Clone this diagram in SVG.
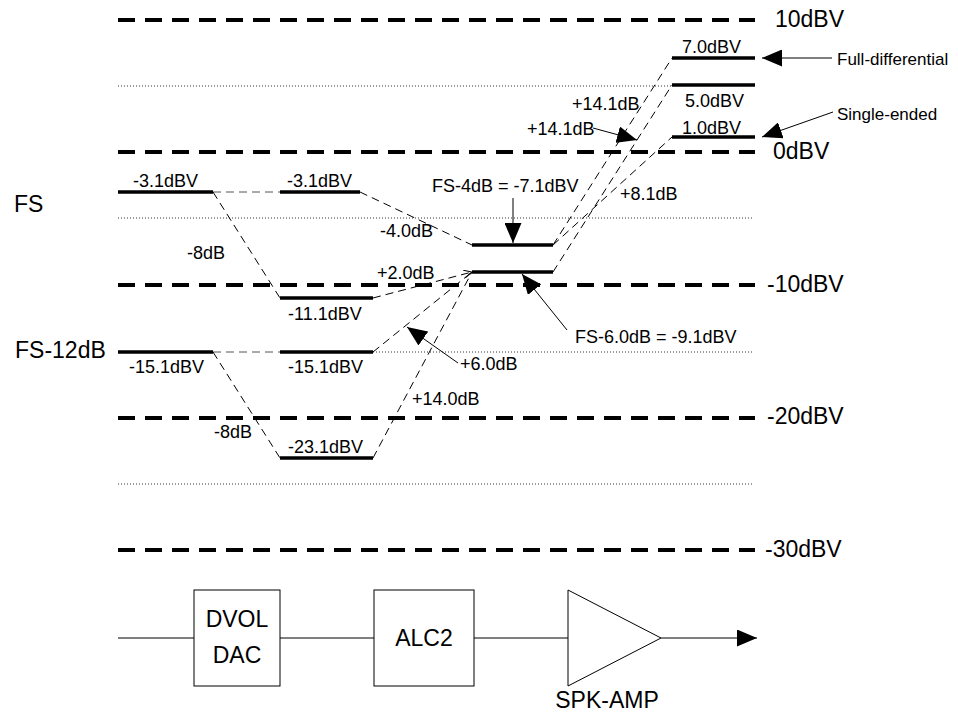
<svg xmlns="http://www.w3.org/2000/svg" width="958" height="719" viewBox="0 0 958 719">
<style>
text{font-family:"Liberation Sans",Arial,sans-serif;fill:#000}
.lg{font-size:23px}
.md{font-size:18px}
.sm{font-size:17px}
.ref{stroke:#000;stroke-width:4;stroke-dasharray:17 10;fill:none}
.dot{stroke:#333;stroke-width:1;stroke-dasharray:1 2;fill:none}
.lvl{stroke:#000;stroke-width:3.5;fill:none}
.cn{stroke:#000;stroke-width:1;stroke-dasharray:8 5;fill:none}
.cg{stroke:#555;stroke-width:1;stroke-dasharray:8 5;fill:none}
.ar{stroke:#000;stroke-width:1;fill:none;marker-end:url(#ah)}
.blk{stroke:#000;stroke-width:1;fill:#fff}
</style>
<defs>
<marker id="ah" viewBox="0 0 20 17" refX="20" refY="8.5" markerWidth="20" markerHeight="17" markerUnits="userSpaceOnUse" orient="auto">
<path d="M0,0 L20,8.5 L0,17 Z" fill="#000"/>
</marker>
<marker id="oa" viewBox="0 0 8 8" refX="8" refY="4" markerWidth="8" markerHeight="8" markerUnits="userSpaceOnUse" orient="auto">
<path d="M0,0 L8,4 L0,8" fill="none" stroke="#000" stroke-width="1"/>
</marker>
</defs>

<g id="grid">
<line class="ref" x1="118" y1="20" x2="755" y2="20"/>
<line class="dot" x1="118" y1="86" x2="672" y2="86"/>
<line class="ref" x1="118" y1="152" x2="755" y2="152"/>
<line class="dot" x1="118" y1="218" x2="753" y2="218"/>
<line class="ref" x1="118" y1="285" x2="755" y2="285"/>
<line class="dot" x1="373" y1="352" x2="753" y2="352"/>
<line class="ref" x1="118" y1="418" x2="755" y2="418"/>
<line class="dot" x1="118" y1="484" x2="753" y2="484"/>
<line class="ref" x1="118" y1="550" x2="755" y2="550"/>
<text class="lg" x="775" y="27">10dBV</text>
<text class="lg" x="773" y="159">0dBV</text>
<text class="lg" x="767" y="292">-10dBV</text>
<text class="lg" x="767" y="424">-20dBV</text>
<text class="lg" x="765" y="557">-30dBV</text>
<text class="lg" x="14" y="212">FS</text>
<text class="lg" x="15" y="358">FS-12dB</text>
</g>

<g id="connectors">
<line class="cg" x1="213" y1="192" x2="280" y2="192"/>
<line class="cn" x1="213" y1="192" x2="280" y2="298"/>
<line class="cn" x1="360" y1="192" x2="472" y2="245"/>
<line class="cn" x1="373" y1="298" x2="472" y2="272" marker-end="url(#oa)"/>
<line class="cg" x1="213" y1="352" x2="280" y2="352"/>
<line class="cn" x1="213" y1="352" x2="280" y2="458"/>
<line class="cn" x1="373" y1="352" x2="472" y2="272"/>
<line class="cn" x1="373" y1="458" x2="472" y2="272"/>
<line class="cn" x1="553" y1="245" x2="672" y2="58"/>
<line class="cn" x1="553" y1="272" x2="672" y2="85"/>
<line class="cn" x1="553" y1="245" x2="672" y2="137"/>
<text class="md" x="187" y="259">-8dB</text>
<text class="md" x="380" y="237">-4.0dB</text>
<text class="md" x="377" y="279">+2.0dB</text>
<text class="md" x="460" y="370">+6.0dB</text>
<text class="md" x="412" y="405">+14.0dB</text>
<text class="md" x="214" y="438">-8dB</text>
<text class="md" x="572" y="110">+14.1dB</text>
<text class="md" x="527" y="135">+14.1dB</text>
<text class="md" x="620" y="200">+8.1dB</text>
</g>

<g id="lvl-fs-dvol">
<line class="lvl" x1="118" y1="192" x2="213" y2="192"/>
<text class="md" x="133" y="187">-3.1dBV</text>
</g>
<g id="lvl-fs-alc">
<line class="lvl" x1="280" y1="192" x2="360" y2="192"/>
<text class="md" x="287" y="187">-3.1dBV</text>
</g>
<g id="lvl-fs-alc-8">
<line class="lvl" x1="280" y1="298" x2="373" y2="298"/>
<text class="md" x="288" y="320">-11.1dBV</text>
</g>
<g id="lvl-fs12-dvol">
<line class="lvl" x1="118" y1="352" x2="213" y2="352"/>
<text class="md" x="129" y="373">-15.1dBV</text>
</g>
<g id="lvl-fs12-alc">
<line class="lvl" x1="280" y1="352" x2="373" y2="352"/>
<text class="md" x="288" y="373">-15.1dBV</text>
</g>
<g id="lvl-fs12-alc-8">
<line class="lvl" x1="280" y1="458" x2="373" y2="458"/>
<text class="md" x="288" y="453">-23.1dBV</text>
</g>
<g id="lvl-m7">
<line class="lvl" x1="472" y1="245" x2="553" y2="245"/>
<text class="md" x="432" y="192">FS-4dB = -7.1dBV</text>
<line class="ar" x1="513" y1="198" x2="513" y2="243"/>
</g>
<g id="lvl-m9">
<line class="lvl" x1="472" y1="272" x2="553" y2="272"/>
<text class="md" x="575" y="343">FS-6.0dB = -9.1dBV</text>
<line class="ar" x1="567" y1="330" x2="522" y2="274"/>
</g>
<g id="lvl-7">
<line class="lvl" x1="672" y1="58" x2="755" y2="58"/>
<text class="md" x="682" y="53">7.0dBV</text>
</g>
<g id="lvl-5">
<line class="lvl" x1="672" y1="85" x2="755" y2="85"/>
<text class="md" x="685" y="107">5.0dBV</text>
</g>
<g id="lvl-1">
<line class="lvl" x1="672" y1="137" x2="755" y2="137"/>
<text class="md" x="682" y="134">1.0dBV</text>
</g>
<g id="ann">
<line class="ar" x1="832" y1="58" x2="762" y2="58"/>
<text class="sm" x="837" y="65">Full-differential</text>
<line class="ar" x1="833" y1="112" x2="762" y2="137"/>
<text class="sm" x="837" y="120">Single-ended</text>
<line class="ar" x1="593" y1="128" x2="637" y2="140"/>
<line class="ar" x1="458" y1="363" x2="407" y2="327"/>
</g>

<g id="chain">
<line x1="118" y1="638" x2="194" y2="638" stroke="#000" stroke-width="1"/>
<line x1="280" y1="638" x2="374" y2="638" stroke="#000" stroke-width="1"/>
<line x1="474" y1="638" x2="568" y2="638" stroke="#000" stroke-width="1"/>
<line class="ar" x1="661" y1="638" x2="757" y2="638"/>
</g>
<g id="dvol">
<rect class="blk" x="194" y="590" width="86" height="96"/>
<text class="lg" x="237" y="627" text-anchor="middle">DVOL</text>
<text class="lg" x="237" y="663" text-anchor="middle">DAC</text>
</g>
<g id="alc2">
<rect class="blk" x="374" y="590" width="100" height="96"/>
<text class="lg" x="424" y="646" text-anchor="middle">ALC2</text>
</g>
<g id="spkamp">
<path class="blk" d="M568,590 L661,638 L568,686 Z"/>
<text class="lg" x="607" y="708" text-anchor="middle">SPK-AMP</text>
</g>
</svg>
